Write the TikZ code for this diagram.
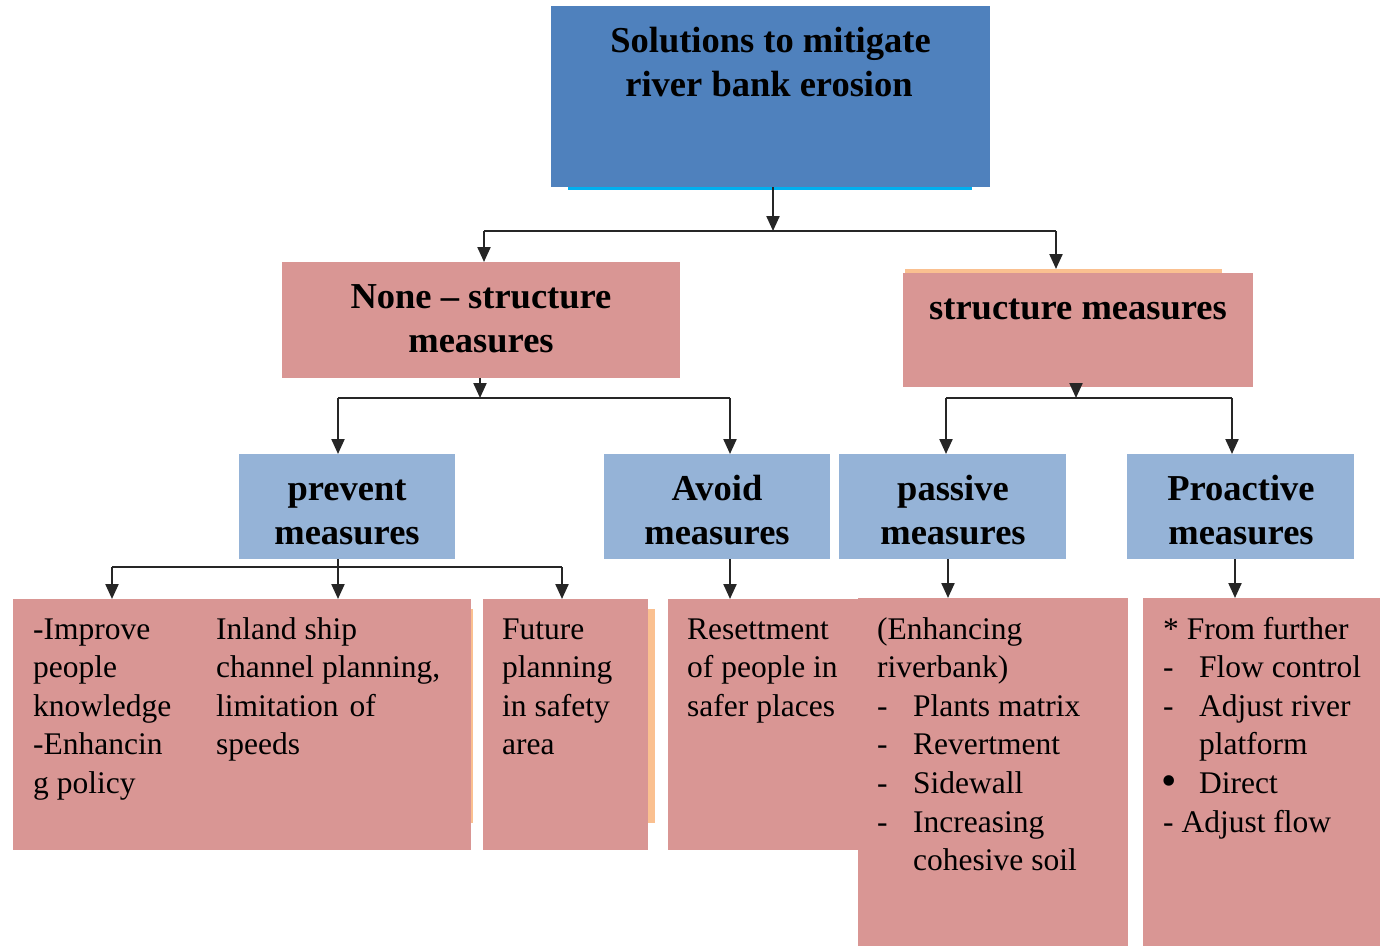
\documentclass[tikz,border=0pt]{standalone}
\usepackage{fontspec}
\setmainfont{Liberation Serif}
\usetikzlibrary{arrows.meta}
\definecolor{topblue}{HTML}{4F81BD}
\definecolor{pinkbox}{HTML}{D99694}
\definecolor{lightblue}{HTML}{95B3D7}
\definecolor{orangeedge}{HTML}{FAC090}
\definecolor{cyanedge}{HTML}{00B0F0}
\begin{document}
\begin{tikzpicture}[x=1pt,y=-1pt,
  box/.style={draw=none, inner sep=0pt, outer sep=0pt, anchor=north west},
  rootbox/.style={box, fill=topblue},
  pinkrect/.style={box, fill=pinkbox},
  bluerect/.style={box, fill=lightblue, minimum height=105pt},
  body/.style={font=\fontsize{31.5}{38.5}\selectfont, anchor=base west, inner sep=0pt},
  head/.style={font=\fontsize{36.5}{44}\selectfont\bfseries, anchor=base, inner sep=0pt},
  conn/.style={line width=2.2pt, draw=black!85},
  arr/.style={conn, -{Triangle[width=13pt,length=15pt]}}]
\useasboundingbox (0,0) rectangle (1381,947);
\fill[white] (0,0) rectangle (1381,947);

% decorative edges behind boxes
\fill[orangeedge] (905,269) rectangle (1222,274);
\fill[orangeedge] (470,609) rectangle (473,823);
\fill[orangeedge] (646,609) rectangle (655,823);

% boxes
\node[rootbox, minimum width=439pt, minimum height=181pt] (root) at (551,6) {};
\fill[cyanedge] (568,186.5) rectangle (972,189.5);
\node[pinkrect, minimum width=398pt, minimum height=116pt] (none) at (282,262) {};
\node[pinkrect, minimum width=350pt, minimum height=114pt] (struct) at (903,273) {};
\node[bluerect, minimum width=216pt] (prevent) at (239,454) {};
\node[bluerect, minimum width=226pt] (avoid) at (604,454) {};
\node[bluerect, minimum width=227pt] (passive) at (839,454) {};
\node[bluerect, minimum width=227pt] (proactive) at (1127,454) {};
\node[pinkrect, minimum width=458pt, minimum height=251pt] (leftbox) at (13,599) {};
\node[pinkrect, minimum width=165pt, minimum height=251pt] (future) at (483,599) {};
\node[pinkrect, minimum width=190pt, minimum height=251pt] (reset) at (668,599) {};
\node[pinkrect, minimum width=270pt, minimum height=348pt] (passiveb) at (858,598) {};
\node[pinkrect, minimum width=237pt, minimum height=348pt] (prob) at (1143,598) {};

% junction coordinates
\coordinate (j1) at (773,231);
\coordinate (j1l) at (484,231);
\coordinate (j1r) at (1056,231);
\coordinate (j2) at (480,398);
\coordinate (j2l) at (338,398);
\coordinate (j2r) at (730,398);
\coordinate (j3) at (1076,398);
\coordinate (j3l) at (946,398);
\coordinate (j3r) at (1232,398);
\coordinate (j4) at (338,567);
\coordinate (j4l) at (112,567);
\coordinate (j4r) at (562,567);

% connectors
\draw[arr] (root.south -| j1) -- (j1);
\draw[conn] (j1l) -- (j1r);
\draw[arr] (j1l) -- (none.north -| j1l);
\draw[arr, shorten >=4pt] (j1r) -- (struct.north -| j1r);

\draw[arr] (none.south -| j2) -- (j2);
\draw[conn] (j2l) -- (j2r);
\draw[arr] (j2l) -- (prevent.north -| j2l);
\draw[arr] (j2r) -- (avoid.north -| j2r);

\draw[arr] (struct.south -| j3) -- (j3);
\draw[conn] (j3l) -- (j3r);
\draw[arr] (j3l) -- (passive.north -| j3l);
\draw[arr] (j3r) -- (proactive.north -| j3r);

\draw[conn] (j4l) -- (j4r);
\draw[arr] (prevent.south -| j4) -- (leftbox.north -| j4);
\draw[arr] (j4l) -- (leftbox.north -| j4l);
\draw[arr] (j4r) -- (future.north -| j4r);

\coordinate (c5) at (730,0);
\coordinate (c6) at (948,0);
\coordinate (c7) at (1235,0);
\draw[arr] (avoid.south -| c5) -- (reset.north -| c5);
\draw[arr] (passive.south -| c6) -- (passiveb.north -| c6);
\draw[arr] (proactive.south -| c7) -- (prob.north -| c7);

% headings
\node[head] (t1) at (770.5,53) {Solutions to mitigate};
\node[head] (t2) at (769,97) {river bank erosion};
\node[head] (t3) at (481,308) {None – structure};
\node[head] (t4) at (481,352) {measures};
\node[head] (t5) at (1078,319) {structure measures};
\node[head] (t6) at (347,500) {prevent};
\node[head] (t7) at (347,544) {measures};
\node[head] (t8) at (717,500) {Avoid};
\node[head] (t9) at (717,544) {measures};
\node[head] (t10) at (953,500) {passive};
\node[head] (t11) at (953,544) {measures};
\node[head] (t12) at (1241,500) {Proactive};
\node[head] (t13) at (1241,544) {measures};

% body texts
\foreach \t [count=\i from 0] in {-Improve, people, knowledge, -Enhancin, g policy}
  \node[body] (la\i) at (33,{639+38.6*\i}) {\t};
\foreach \t [count=\i from 0] in {Inland ship, {channel planning,}, limitation\hspace{11pt}of, speeds}
  \node[body] (lb\i) at (216,{639+38.6*\i}) {\t};
\foreach \t [count=\i from 0] in {Future, planning, in safety, area}
  \node[body] (fu\i) at (502,{639+38.6*\i}) {\t};
\foreach \t [count=\i from 0] in {Resettment, of people in, safer places}
  \node[body] (rs\i) at (687,{639+38.6*\i}) {\t};
\node[body] (pa0) at (877,639) {(Enhancing};
\node[body] (pa1) at (877,677.6) {riverbank)};
\foreach \t [count=\i from 2] in {Plants matrix, Revertment, Sidewall, Increasing}{
  \node[body] (pd\i) at (877,{639+38.6*\i}) {-};
  \node[body] (pa\i) at (913,{639+38.6*\i}) {\t};
}
\node[body] (pa6) at (913,{639+38.6*6}) {cohesive soil};
\node[body] (pr0) at (1163,639) {* From further};
\node[body] (pd7) at (1163,{639+38.6}) {-};
\node[body] (pr1) at (1199,{639+38.6}) {Flow control};
\node[body] (pd8) at (1163,{639+38.6*2}) {-};
\node[body] (pr2) at (1199,{639+38.6*2}) {Adjust river};
\node[body] (pr3) at (1199,{639+38.6*3}) {platform};
\node[body, font=\fontsize{44}{44}\selectfont] (pd9) at (1161,{639+38.6*4+2}) {•};
\node[body] (pr4) at (1199,{639+38.6*4}) {Direct};
\node[body] (pr5) at (1163,{639+38.6*5}) {- Adjust flow};
\end{tikzpicture}
\end{document}
